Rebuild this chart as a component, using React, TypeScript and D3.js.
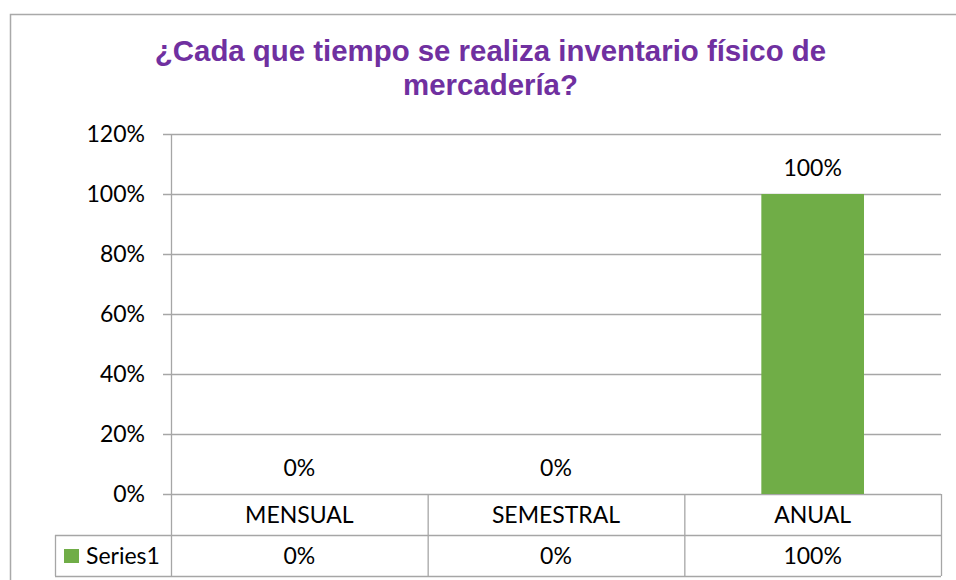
import React from "react";
import * as d3 from "d3";

const categories = ["MENSUAL", "SEMESTRAL", "ANUAL"];
const seriesName = "Series1";
const values = [0, 0, 1];
const yTicks = [0, 0.2, 0.4, 0.6, 0.8, 1.0, 1.2];
const titleLines = ["¿Cada que tiempo se realiza inventario físico de", "mercadería?"];

const W = 956;
const H = 580;
const plotLeft = 171;
const plotRight = 941;
const plotTop = 134;
const plotBottom = 494;
const rowH = 41;
const legendLeft = 55;

const gridColor = "#A6A6A6";
const green = "#70AD47";
const purple = "#7030A0";
const bodyFont = "Lato, 'Open Sans', sans-serif";
const titleFont = "'Liberation Sans', Arial, sans-serif";

export default function App() {
  const y = d3.scaleLinear().domain([0, 1.2]).range([plotBottom, plotTop]);
  const x = d3
    .scaleBand<string>()
    .domain(categories)
    .range([plotLeft, plotRight])
    .paddingInner(0.6)
    .paddingOuter(0.3);
  const step = x.step();
  const fmt = d3.format(".0%");
  const row1 = plotBottom + rowH;
  const row2 = row1 + rowH;

  return (
    <svg
      width={W}
      height={H}
      style={{ position: "absolute", left: 0, top: 0, background: "#fff" }}
    >
      <rect x={10.5} y={14.5} width={990} height={620} fill="#fff" stroke="#A9A9A9" strokeWidth={1.5} />
      {titleLines.map((t, i) => (
        <text
          key={i}
          x={490.5}
          y={61 + i * 34}
          textAnchor="middle"
          fontFamily={titleFont}
          fontWeight="bold"
          fontSize={29.4}
          fill={purple}
        >
          {t}
        </text>
      ))}
      {yTicks.map((t) => (
        <g key={t}>
          <line
            x1={plotLeft - 8}
            x2={plotRight}
            y1={Math.round(y(t)) + 0.5}
            y2={Math.round(y(t)) + 0.5}
            stroke={gridColor}
            strokeWidth={1.3}
          />
          <text
            x={145}
            y={y(t)}
            dy="0.35em"
            textAnchor="end"
            fontFamily={bodyFont}
            fontSize={23}
            fill="#000"
          >
            {fmt(t)}
          </text>
        </g>
      ))}
      <line x1={plotLeft + 0.5} x2={plotLeft + 0.5} y1={plotTop} y2={row2} stroke={gridColor} strokeWidth={1.3} />
      {categories.map((c, i) => (
        <g key={c}>
          <rect
            x={x(c)!}
            y={y(values[i])}
            width={x.bandwidth()}
            height={plotBottom - y(values[i])}
            fill={green}
          />
          <text
            x={x(c)! + x.bandwidth() / 2}
            y={y(values[i]) - 26}
            dy="0.35em"
            textAnchor="middle"
            fontFamily={bodyFont}
            fontSize={23}
            fill="#000"
          >
            {fmt(values[i])}
          </text>
          <line
            x1={plotLeft + (i + 1) * step + 0.5}
            x2={plotLeft + (i + 1) * step + 0.5}
            y1={plotBottom}
            y2={row2}
            stroke={gridColor}
            strokeWidth={1.3}
          />
          <text
            x={plotLeft + (i + 0.5) * step}
            y={plotBottom + rowH / 2}
            dy="0.35em"
            textAnchor="middle"
            fontFamily={bodyFont}
            fontSize={23}
            fill="#000"
          >
            {c}
          </text>
          <text
            x={plotLeft + (i + 0.5) * step}
            y={row1 + rowH / 2}
            dy="0.35em"
            textAnchor="middle"
            fontFamily={bodyFont}
            fontSize={23}
            fill="#000"
          >
            {fmt(values[i])}
          </text>
        </g>
      ))}
      <line x1={legendLeft} x2={plotRight} y1={row1 + 0.5} y2={row1 + 0.5} stroke={gridColor} strokeWidth={1.3} />
      <line x1={legendLeft} x2={plotRight} y1={row2 + 0.5} y2={row2 + 0.5} stroke={gridColor} strokeWidth={1.3} />
      <line x1={legendLeft + 0.5} x2={legendLeft + 0.5} y1={row1} y2={row2} stroke={gridColor} strokeWidth={1.3} />
      <rect x={64} y={row1 + 14} width={15} height={14} fill={green} />
      <text
        x={86}
        y={row1 + rowH / 2}
        dy="0.35em"
        fontFamily={bodyFont}
        fontSize={23}
        fill="#000"
      >
        {seriesName}
      </text>
    </svg>
  );
}
